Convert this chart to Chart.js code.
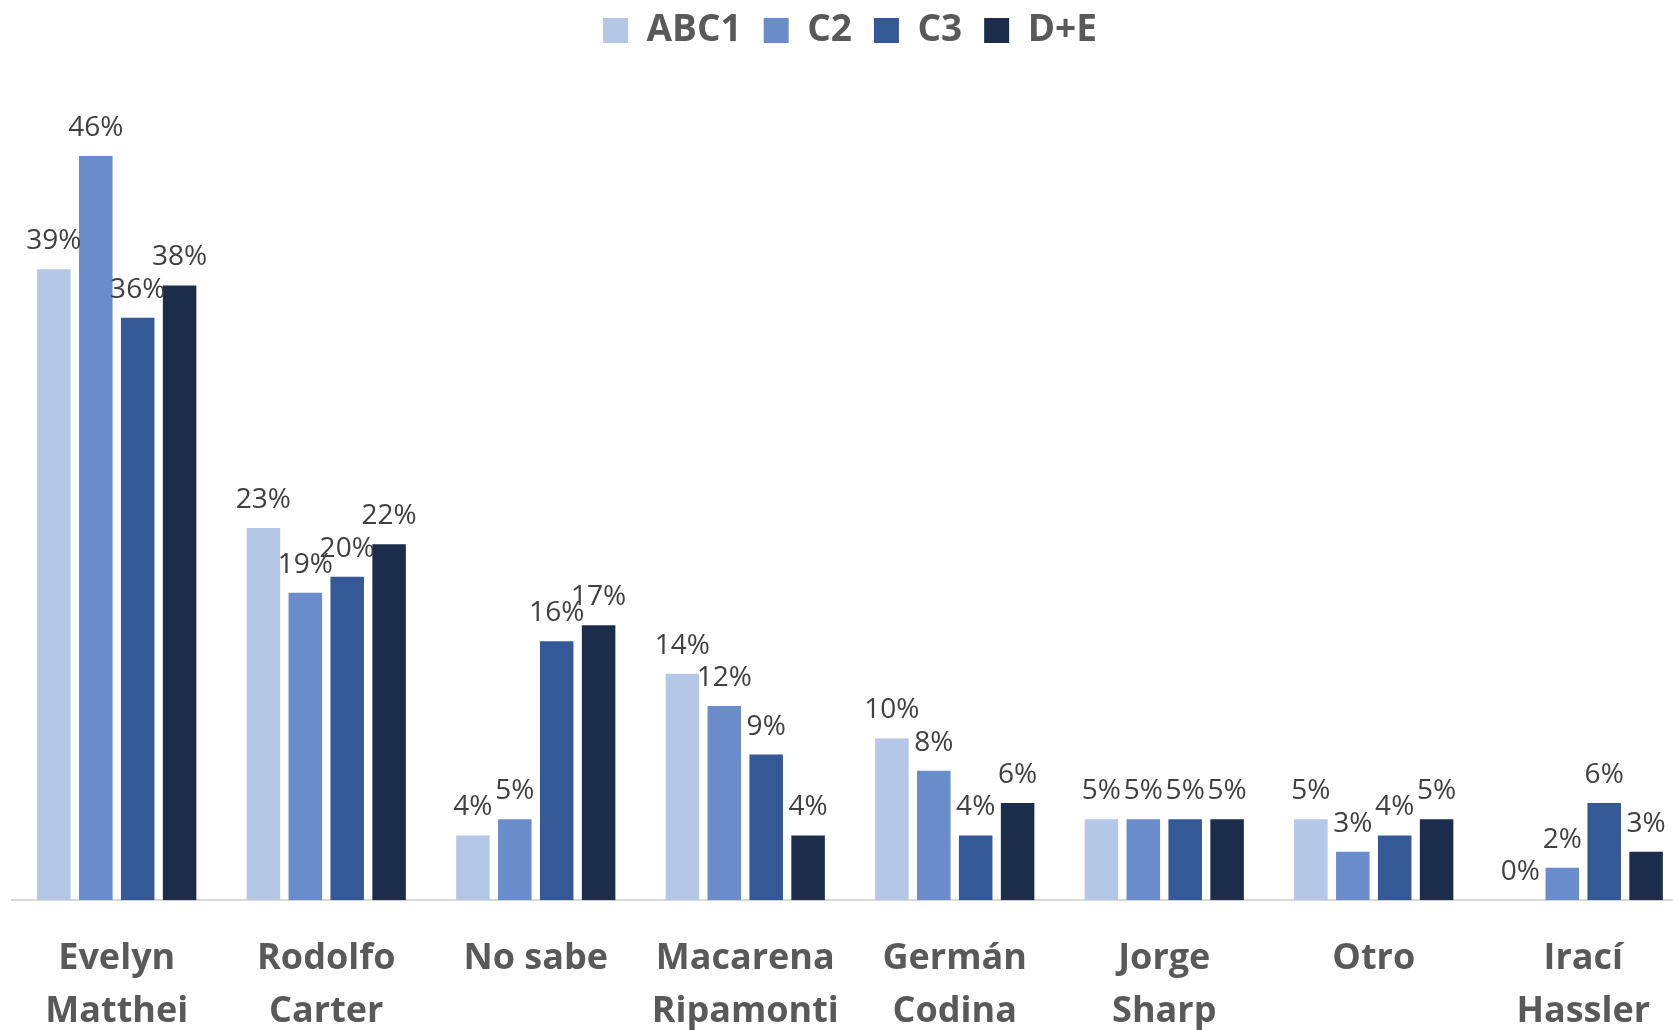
<!DOCTYPE html>
<html>
<head>
<meta charset="utf-8">
<script src="https://cdn.jsdelivr.net/npm/chart.js@4.4.1/dist/chart.umd.min.js"></script>
<style>
  html, body { margin: 0; padding: 0; background: #fff; overflow: hidden; }
  #wrap { width: 1700px; height: 1062px; position: relative; }
</style>
</head>
<body>
<div id="wrap"><canvas id="chart"></canvas></div>
<script>
const categories = [
  ['Evelyn', 'Matthei'],
  ['Rodolfo', 'Carter'],
  ['No sabe'],
  ['Macarena', 'Ripamonti'],
  ['Germán', 'Codina'],
  ['Jorge', 'Sharp'],
  ['Otro'],
  ['Irací', 'Hassler']
];
const seriesNames = ['ABC1', 'C2', 'C3', 'D+E'];
const abc1 = [39, 23, 4, 14, 10, 5, 5, 0];
const c2 = [46, 19, 5, 12, 8, 5, 3, 2];
const c3 = [36, 20, 16, 9, 4, 5, 4, 6];
const de = [38, 22, 17, 4, 6, 5, 5, 3];
const colors = ['#B4C7E7', '#6A8CCA', '#355896', '#1C2C4B'];

// simple labels on top of each bar
const barLabels = {
  id: 'barLabels',
  afterDatasetsDraw(chart) {
    const ctx = chart.ctx;
    ctx.save();
    ctx.font = '28px "Open Sans"';
    ctx.fillStyle = '#404040';
    ctx.textAlign = 'center';
    ctx.textBaseline = 'alphabetic';
    chart.data.datasets.forEach((ds, i) => {
      chart.getDatasetMeta(i).data.forEach((bar, j) => {
        ctx.fillText(ds.data[j] + '%', bar.x, bar.y - 20);
      });
    });
    ctx.restore();
  }
};

const allSeries = [abc1, c2, c3, de];

new Chart(document.getElementById('chart'), {
  type: 'bar',
  data: {
    labels: categories,
    datasets: allSeries.map((d, i) => ({
      label: seriesNames[i],
      data: d,
      backgroundColor: colors[i],
      categoryPercentage: 0.8,
      barPercentage: 0.8
    }))
  },
  options: {
    responsive: true,
    maintainAspectRatio: false,
    animation: false,
    layout: { padding: { left: 12, right: 12, top: -10, bottom: 0 } },
    plugins: {
      legend: {
        position: 'top',
        labels: {
          boxWidth: 25,
          boxHeight: 25,
          padding: 22,
          color: '#595959',
          font: { family: 'Open Sans', size: 37, weight: 'bold' }
        }
      },
      tooltip: { enabled: false }
    },
    scales: {
      x: {
        grid: { display: false },
        border: { display: true, color: '#D9D9D9', width: 2 },
        ticks: {
          color: '#595959',
          padding: 24,
          font: { family: 'Open Sans', size: 36, weight: 'bold', lineHeight: 1.47 }
        }
      },
      y: {
        display: false,
        min: 0,
        max: 52
      }
    }
  },
  plugins: [barLabels]
});
</script>
</body>
</html>
